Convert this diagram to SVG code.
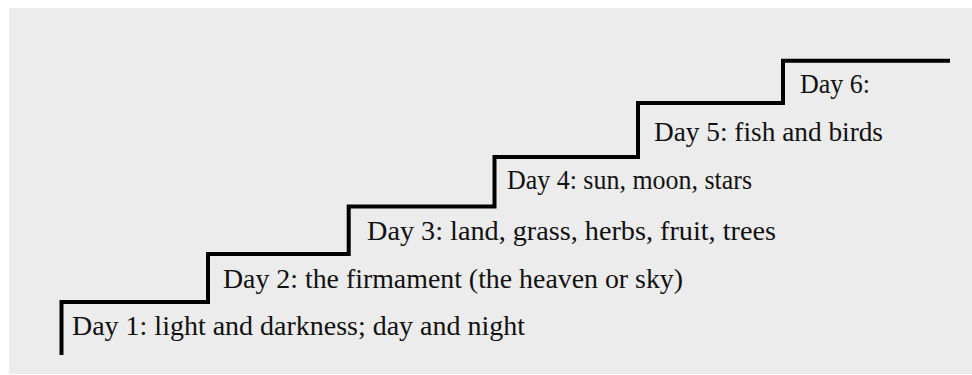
<svg xmlns="http://www.w3.org/2000/svg" width="972" height="375" viewBox="0 0 972 375">
<style>
.bg{fill:#ececec}
.stair{fill:none;stroke:#000;stroke-width:4;stroke-linejoin:miter}
.lbl{font-family:"Liberation Serif","DejaVu Serif",serif;font-size:27px;fill:#111}
</style>
<rect class="bg" x="9" y="8" width="963" height="366"/>
<g id="connectors">
<path class="stair" d="M61.5,355 V302 H208 V254 H348.7 V206.5 H494.5 V157 H638 V103 H783 V60.7 H950"/>
</g>
<g id="day1"><text class="lbl" x="72" y="335" textLength="453" lengthAdjust="spacingAndGlyphs">Day 1: light and darkness; day and night</text></g>
<g id="day2"><text class="lbl" x="223" y="288" textLength="460" lengthAdjust="spacingAndGlyphs">Day 2: the firmament (the heaven or sky)</text></g>
<g id="day3"><text class="lbl" x="367" y="240" textLength="409" lengthAdjust="spacingAndGlyphs">Day 3: land, grass, herbs, fruit, trees</text></g>
<g id="day4"><text class="lbl" x="507" y="189" textLength="245" lengthAdjust="spacingAndGlyphs">Day 4: sun, moon, stars</text></g>
<g id="day5"><text class="lbl" x="654" y="141" textLength="229" lengthAdjust="spacingAndGlyphs">Day 5: fish and birds</text></g>
<g id="day6"><text class="lbl" x="800" y="93" textLength="70" lengthAdjust="spacingAndGlyphs">Day 6:</text></g>
</svg>
